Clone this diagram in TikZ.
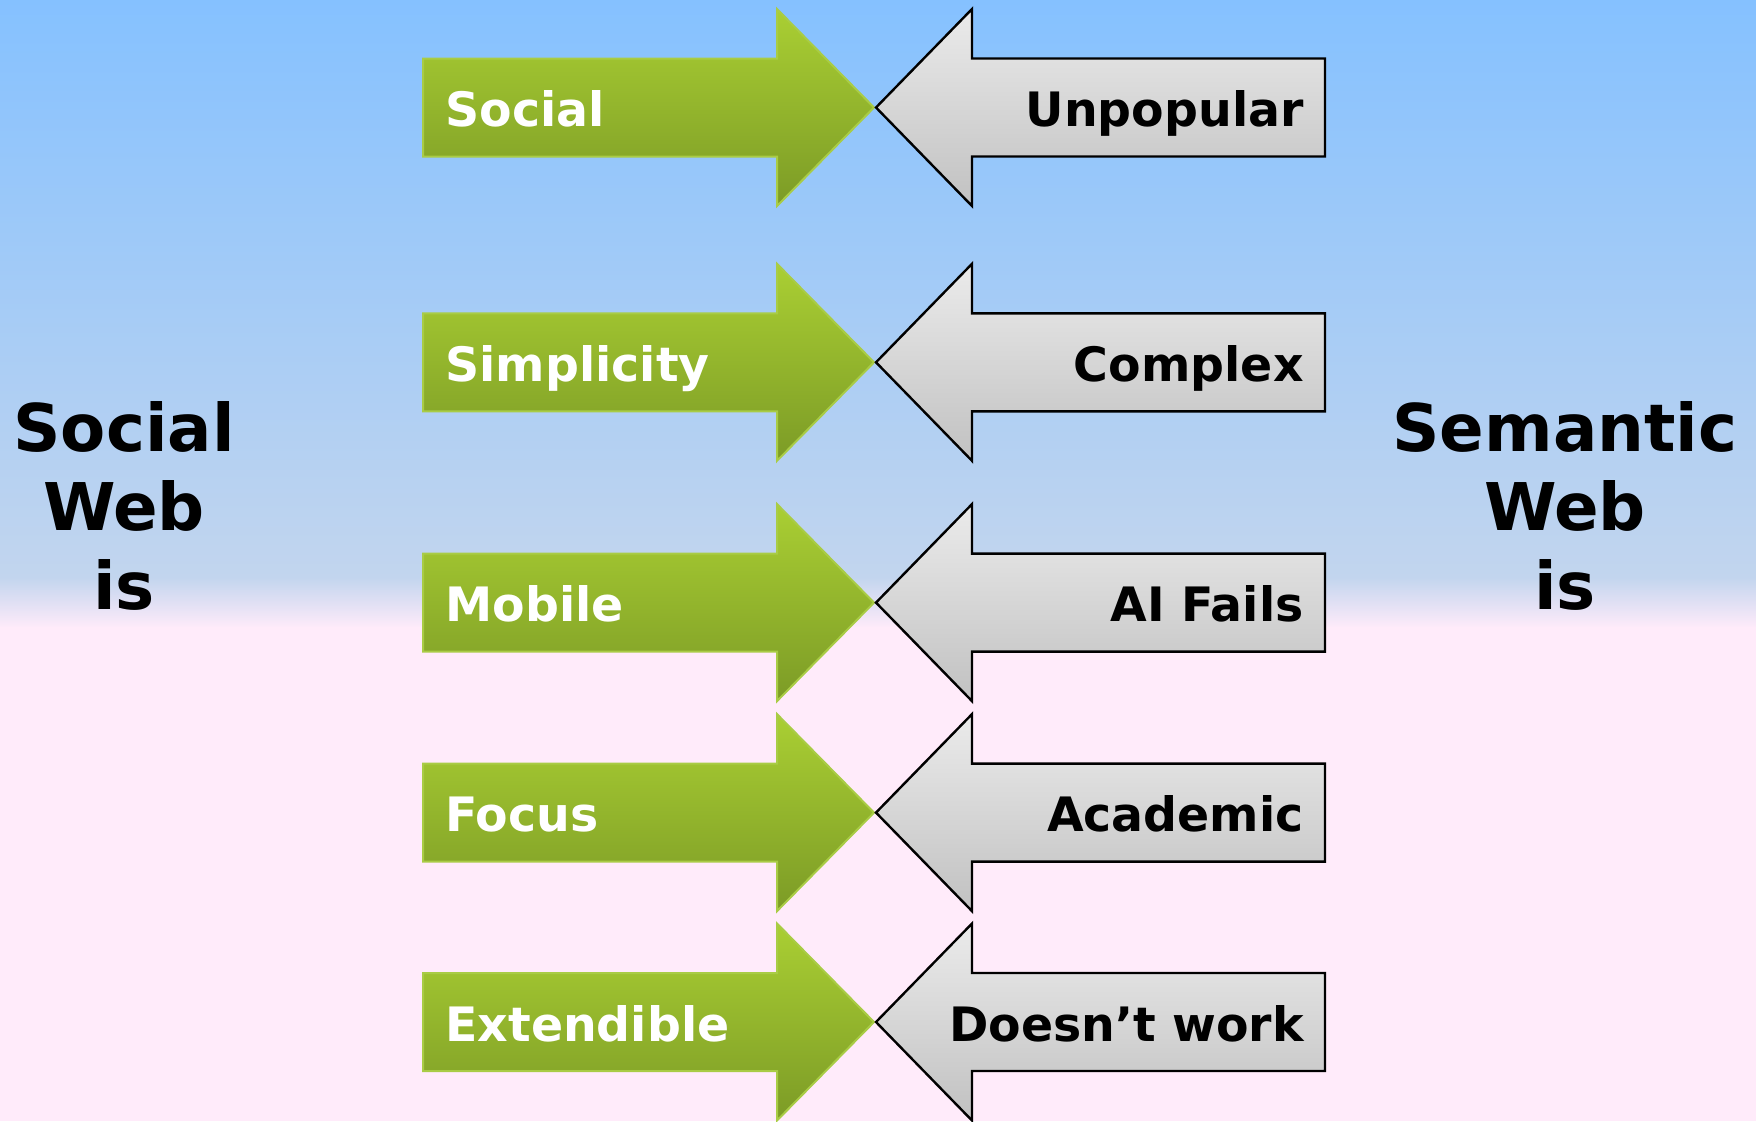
\documentclass[tikz,border=0pt]{standalone}
\usepackage{fontspec}
\setmainfont{DejaVu Sans}
\usetikzlibrary{positioning}

\definecolor{skyblue}{HTML}{85C1FF}
\definecolor{paleblue}{HTML}{C2D5EE}
\definecolor{palepink}{HTML}{FFEBFA}
\definecolor{leafgreen}{HTML}{AACF33}
\definecolor{darkleaf}{HTML}{7C9B26}
\definecolor{leafedge}{HTML}{A9CC45}
\definecolor{lightgrey}{HTML}{EBEBEB}
\definecolor{midgrey}{HTML}{C1C1C1}

\begin{document}
\begin{tikzpicture}
[x=0.5pt, y=-0.5pt,
    greenarrow/.style={draw=leafedge, line width=1pt,
        top color=leafgreen, bottom color=darkleaf},
    greyarrow/.style={draw=black, line width=1.2pt,
        top color=lightgrey, bottom color=midgrey},
    prolabel/.style={text=white, inner sep=0pt, anchor=base west,
        font=\fontsize{23.7}{28}\selectfont\bfseries},
    conlabel/.style={text=black, inner sep=0pt, anchor=base east,
        font=\fontsize{23.7}{28}\selectfont\bfseries},
    sidelabel/.style={text=black, inner sep=0pt, anchor=base, align=center,
        font=\fontsize{32.9}{39.5}\selectfont\bfseries},
    ]
    \useasboundingbox (0,0) rectangle (1756,1121);

    % background: blue sky fading into pink
    \fill[top color=skyblue, bottom color=paleblue] (0,0) rectangle (1756,578);
    \fill[top color=paleblue, bottom color=palepink] (0,577) rectangle (1756,628);
    \fill[palepink] (0,627) rectangle (1756,1121);

    % one row per pair of arrows
    \foreach \c/\pro/\con [count=\i] in {107.5/Social/Unpopular,
                                         362.3/Simplicity/Complex,
                                         602.6/Mobile/AI Fails,
                                         812.6/Focus/Academic,
                                         1022/Extendible/Doesn’t work}
    {
        % green arrow pointing right
        \path[greenarrow] (423,\c-49) -- (777,\c-49) -- (777,\c-98.5)
            -- (874,\c) -- (777,\c+98.5) -- (777,\c+49) -- (423,\c+49) -- cycle;
        % grey arrow pointing left
        \path[greyarrow] (1325,\c-49) -- (972,\c-49) -- (972,\c-98.5)
            -- (876,\c) -- (972,\c+98.5) -- (972,\c+49) -- (1325,\c+49) -- cycle;
        \node[prolabel] (pro\i) at (445,\c+19) {\pro};
        \node[conlabel] (con\i) at (1304,\c+19) {\con};
    }

    % the two sides (base is the last line)
    \node[sidelabel] (socialweb) at (124,609) {Social\\Web\\is};
    \node[sidelabel] (semanticweb) at (1565,609) {Semantic\\Web\\is};

\end{tikzpicture}
\end{document}
